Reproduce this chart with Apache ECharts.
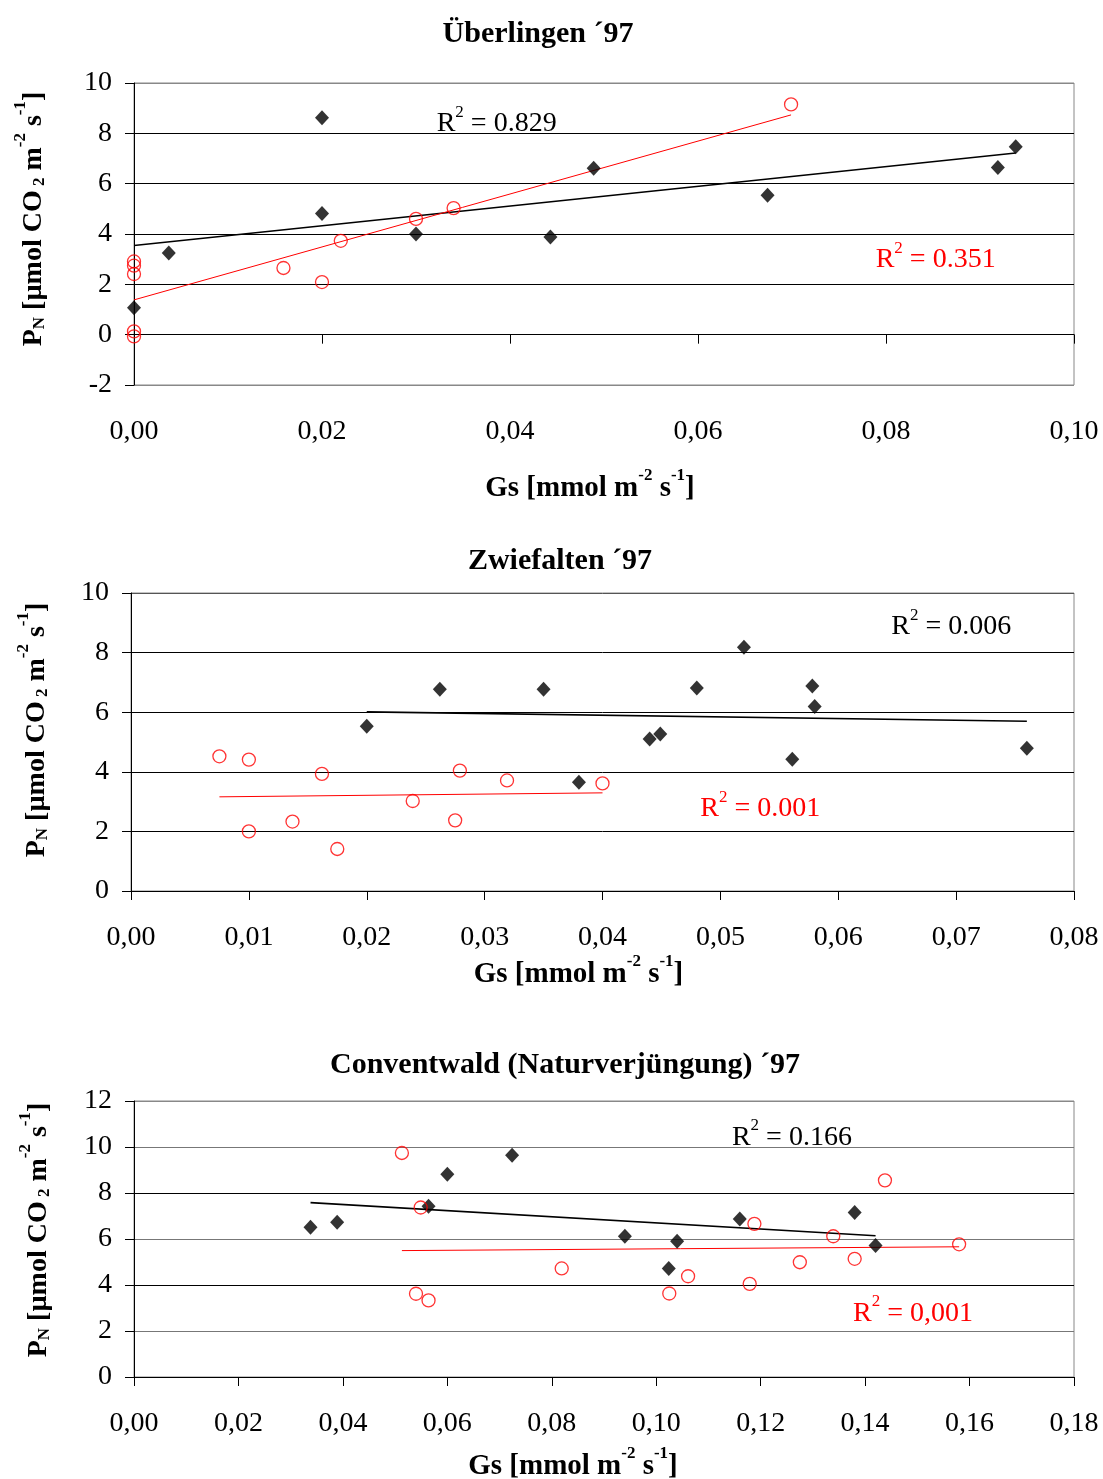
<!DOCTYPE html>
<html>
<head>
<meta charset="utf-8">
<script src="https://cdn.jsdelivr.net/npm/echarts@6/dist/echarts.min.js"></script>
<style>
  html, body { margin: 0; padding: 0; background: #fff; }
  #chart { width: 1103px; height: 1479px; }
</style>
</head>
<body>
<div id="chart"></div>
<script>
// Überlingen '97
var uebDiamondGs = [0.0200, 0.0000, 0.0037, 0.0200, 0.0300, 0.0443, 0.0489, 0.0674, 0.0919, 0.0938]
var uebDiamondPn = [8.62, 1.07, 3.25, 4.81, 4.00, 3.88, 6.61, 5.54, 6.64, 7.47]
var uebCircleGs = [0.0000, 0.0000, 0.0000, 0.0000, 0.0000, 0.0159, 0.0200, 0.0220, 0.0300, 0.0340, 0.0699]
var uebCirclePn = [2.91, 2.74, 2.41, 0.13, -0.07, 2.65, 2.09, 3.73, 4.60, 5.03, 9.15]

// Zwiefalten '97
var zwiDiamondGs = [0.0200, 0.0262, 0.0350, 0.0380, 0.0440, 0.0449, 0.0480, 0.0520, 0.0561, 0.0578, 0.0580, 0.0760]
var zwiDiamondPn = [5.53, 6.77, 6.77, 3.65, 5.10, 5.27, 6.81, 8.18, 4.42, 6.88, 6.19, 4.79]
var zwiCircleGs = [0.0075, 0.0100, 0.0100, 0.0137, 0.0162, 0.0175, 0.0239, 0.0275, 0.0279, 0.0319, 0.0400]
var zwiCirclePn = [4.52, 4.41, 2.00, 2.33, 3.93, 1.41, 3.02, 2.37, 4.04, 3.71, 3.61]

// Conventwald (Naturverjüngung) '97
var conDiamondGs = [0.0338, 0.0389, 0.0564, 0.0600, 0.0724, 0.0940, 0.1024, 0.1040, 0.1160, 0.1380, 0.1420]
var conDiamondPn = [6.51, 6.73, 7.42, 8.81, 9.64, 6.12, 4.72, 5.90, 6.87, 7.15, 5.72]
var conCircleGs = [0.0513, 0.0549, 0.0540, 0.0564, 0.0819, 0.1025, 0.1061, 0.1179, 0.1188, 0.1275, 0.1339, 0.1380, 0.1438, 0.1580]
var conCirclePn = [9.74, 7.37, 3.62, 3.33, 4.72, 3.63, 4.38, 4.05, 6.66, 4.99, 6.12, 5.14, 8.55, 5.77]

var titles = ['Überlingen ´97', 'Zwiefalten ´97', 'Conventwald (Naturverjüngung) ´97']
var r2Texts = [['0.829', '0.351'], ['0.006', '0.001'], ['0.166', '0,001']]

var FONT = "'Liberation Serif', 'Times New Roman', serif"

function pairs (xs, ys) {
  return xs.map(function (x, i) { return [x, ys[i]] })
}

// least squares trend line over the data range (like an Excel trendline)
function trend (xs, ys) {
  var n = xs.length
  var mx = 0, my = 0
  for (var i = 0; i < n; i++) { mx += xs[i]; my += ys[i] }
  mx /= n; my /= n
  var sxy = 0, sxx = 0
  for (var j = 0; j < n; j++) {
    sxy += (xs[j] - mx) * (ys[j] - my)
    sxx += (xs[j] - mx) * (xs[j] - mx)
  }
  var b = sxy / sxx
  var a = my - b * mx
  var x0 = Math.min.apply(null, xs)
  var x1 = Math.max.apply(null, xs)
  return [[x0, a + b * x0], [x1, a + b * x1]]
}

function richName (size) {
  return {
    b: { fontSize: size, fontWeight: 'bold', fontFamily: FONT, color: '#000', lineHeight: 36, verticalAlign: 'bottom' },
    s: { fontSize: 17, fontWeight: 'bold', fontFamily: FONT, color: '#000', lineHeight: 36, verticalAlign: 'bottom' },
    sup: { fontSize: 17, fontWeight: 'bold', fontFamily: FONT, color: '#000', lineHeight: 36, verticalAlign: 'top' }
  }
}
var richR2 = {
  r: { fontSize: 28, fontFamily: FONT, lineHeight: 34, verticalAlign: 'bottom' },
  sup: { fontSize: 17, fontFamily: FONT, lineHeight: 34, verticalAlign: 'top' }
}

var yName = '{b|P}{s|N}{b| [µmol CO}{s| 2}{b| m}{sup|-2}{b| s}{sup|-1}{b|]}'
var xName = '{b|Gs [mmol m}{sup|-2}{b| s}{sup|-1}{b|]}'

var grids = [
  { left: 134, top: 83, width: 940, height: 302 },
  { left: 131, top: 593, width: 943, height: 298 },
  { left: 134, top: 1101, width: 940, height: 276 }
]
var xMax = [0.10, 0.08, 0.18]
var xStep = [0.02, 0.01, 0.02]
var yMin = [-2, 0, 0]
var yMax = [10, 10, 12]
var xNameGap = [82, 62, 68]
var yNameGap = [86, 80, 81]
var xNamePad = [[0, 28, 0, 0], [0, 48, 0, 0], [0, 62, 0, 0]]
var yNamePad = [[0, 0, 0, 30], [0, 0, 0, 24], [0, 0, 0, 18]]
var splitColors = [
  ['#888', '#000', '#000', '#000', '#000', '#000', '#888'],
  ['#000', '#000', '#000', '#000', '#000', '#555'],
  ['#000', '#777', '#000', '#777', '#000', '#777', '#888']
]

var xAxes = []
var yAxes = []
grids.forEach(function (g, k) {
  // axis line + ticks crossing at zero
  xAxes.push({
    type: 'value', gridIndex: k, position: 'bottom', min: 0, max: xMax[k], interval: xStep[k],
    axisLine: { show: true, onZero: true, lineStyle: { color: '#000', width: 1 } },
    axisTick: { show: true, length: 9, lineStyle: { color: '#000' } },
    axisLabel: { show: false },
    splitLine: { show: false }
  })
  // labels + name below the plot
  xAxes.push({
    type: 'value', gridIndex: k, position: 'bottom', min: 0, max: xMax[k], interval: xStep[k],
    axisLine: { show: false, onZero: false },
    axisTick: { show: false },
    splitLine: { show: false },
    axisLabel: {
      margin: 33, fontSize: 28, fontFamily: FONT, color: '#000',
      formatter: function (v) { return v.toFixed(2).replace('.', ',') }
    },
    name: xName, nameLocation: 'middle', nameGap: xNameGap[k],
    nameTextStyle: { rich: richName(29), padding: xNamePad[k] }
  })
  yAxes.push({
    type: 'value', gridIndex: k, min: yMin[k], max: yMax[k], interval: 2,
    axisLine: { show: true, onZero: false, lineStyle: { color: '#000' } },
    axisTick: { show: true, length: 9, lineStyle: { color: '#000' } },
    axisLabel: { margin: 22, fontSize: 28, fontFamily: FONT, color: '#000' },
    splitLine: { show: true, lineStyle: { color: splitColors[k], width: 1 } },
    name: yName, nameLocation: 'middle', nameRotate: 90, nameGap: yNameGap[k],
    nameTextStyle: { rich: richName(28), padding: yNamePad[k] }
  })
})

var sets = [
  [uebDiamondGs, uebDiamondPn, uebCircleGs, uebCirclePn],
  [zwiDiamondGs, zwiDiamondPn, zwiCircleGs, zwiCirclePn],
  [conDiamondGs, conDiamondPn, conCircleGs, conCirclePn]
]
// where the R² notes sit, in data units of each panel: [black, red]
var r2Pos = [
  [[0.0322, 8.5], [0.0789, 3.1]],
  [[0.0645, 8.96], [0.0483, 2.85]],
  [[0.1145, 10.55], [0.1377, 2.9]]
]

function r2Mark (pos, text, color) {
  return {
    silent: true,
    symbol: 'circle',
    symbolSize: 0,
    data: [{ coord: pos }],
    label: {
      show: true, position: 'right', distance: 0, color: color,
      formatter: '{r|R}{sup|2}{r| = ' + text + '}',
      rich: richR2
    }
  }
}

var series = []
sets.forEach(function (s, k) {
  series.push({
    type: 'line', xAxisIndex: 2 * k, yAxisIndex: k, silent: true,
    data: trend(s[0], s[1]), showSymbol: false, symbol: 'none',
    lineStyle: { color: '#000', width: 1.6 }, z: 1,
    markPoint: r2Mark(r2Pos[k][0], r2Texts[k][0], '#000')
  })
  series.push({
    type: 'line', xAxisIndex: 2 * k, yAxisIndex: k, silent: true,
    data: trend(s[2], s[3]), showSymbol: false, symbol: 'none',
    lineStyle: { color: '#ff0000', width: 1 }, z: 1,
    markPoint: r2Mark(r2Pos[k][1], r2Texts[k][1], '#ff0000')
  })
  series.push({
    type: 'scatter', xAxisIndex: 2 * k, yAxisIndex: k, clip: false,
    data: pairs(s[0], s[1]), symbol: 'diamond', symbolSize: [14, 15],
    itemStyle: { color: '#000' }, z: 3
  })
  series.push({
    type: 'scatter', xAxisIndex: 2 * k, yAxisIndex: k, clip: false,
    data: pairs(s[2], s[3]), symbol: 'circle', symbolSize: 13,
    itemStyle: { color: 'rgba(0,0,0,0)', borderColor: '#ff0000', borderWidth: 1.3 }, z: 3
  })
})

var titleX = [533, 555, 560]
var titleTop = [14, 541, 1045]

var myChart = echarts.init(document.getElementById('chart'))
myChart.setOption({
  animation: false,
  backgroundColor: '#fff',
  title: titles.map(function (t, k) {
    return {
      text: t, left: titleX[k], top: titleTop[k], textAlign: 'center',
      textStyle: { fontSize: 30, fontWeight: 'bold', fontFamily: FONT, color: '#000' }
    }
  }),
  grid: grids.map(function (g) {
    return Object.assign({
      show: true, borderColor: '#888', borderWidth: 1, backgroundColor: 'transparent',
      containLabel: false, outerBoundsMode: 'none'
    }, g)
  }),
  xAxis: xAxes,
  yAxis: yAxes,
  series: series
})
</script>
</body>
</html>
